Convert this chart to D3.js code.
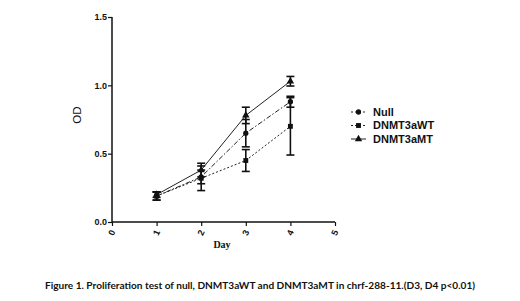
<!DOCTYPE html>
<html><head><meta charset="utf-8">
<script src="https://cdn.jsdelivr.net/npm/d3@7"></script>
<style>body{margin:0;background:#fff}svg{display:block}</style>
</head><body>
<svg id="c" width="520" height="301"></svg>
<script>
const days = [1, 2, 3, 4];
const xTicks = [0, 1, 2, 3, 4, 5];
const yTicks = [0.0, 0.5, 1.0, 1.5];
const seriesNames = ["Null", "DNMT3aWT", "DNMT3aMT"];
const nullMean = [0.19, 0.33, 0.65, 0.88];
const nullErr  = [0.03, 0.05, 0.10, 0.04];
const wtMean   = [0.19, 0.32, 0.45, 0.70];
const wtErr    = [0.03, 0.09, 0.08, 0.21];
const mtMean   = [0.20, 0.38, 0.78, 1.03];
const mtErr    = [0.02, 0.05, 0.06, 0.035];

const svg = d3.select("#c");
const x = d3.scaleLinear().domain([0,5]).range([112,335]);
const y = d3.scaleLinear().domain([0,1.5]).range([222,17]);

const series = [
  {name: seriesNames[0], mean: nullMean, err: nullErr, dash: "5,2,1.5,2", shape: d3.symbolCircle, size: 22},
  {name: seriesNames[1], mean: wtMean, err: wtErr, dash: "2,2", shape: d3.symbolSquare, size: 24},
  {name: seriesNames[2], mean: mtMean, err: mtErr, dash: null, shape: d3.symbolTriangle, size: 24}
];

// axes
const yAxis = d3.axisLeft(y).tickValues(yTicks).tickFormat(d3.format(".1f")).tickSize(4);
const gy = svg.append("g").attr("transform","translate(112,0)").call(yAxis);
gy.select(".domain").attr("stroke","#111").attr("stroke-width",1.5).attr("d","M0,17V222");
gy.selectAll(".tick line").attr("stroke","#111").attr("stroke-width",1.2);
gy.selectAll(".tick text").attr("font-family","Liberation Sans, Arial").attr("font-weight","bold").attr("font-size",9).attr("fill","#111").attr("x",-5);

const xAxis = d3.axisBottom(x).tickValues(xTicks).tickFormat(d3.format("d")).tickSize(4);
const gx = svg.append("g").attr("transform","translate(0,222)").call(xAxis);
gx.select(".domain").attr("stroke","#111").attr("stroke-width",1.5).attr("d","M112,0H335");
gx.selectAll(".tick line").attr("stroke","#111").attr("stroke-width",1.2);
gx.selectAll(".tick text").attr("font-family","Liberation Sans, Arial").attr("font-weight","bold").attr("font-size",9).attr("fill","#111")
  .attr("y",0).attr("dy",0).attr("text-anchor","middle")
  .attr("transform","translate(0,11) rotate(-65)").attr("dominant-baseline","middle");

// axis titles
svg.append("text").attr("x",222).attr("y",248).attr("text-anchor","middle")
  .attr("font-family","Liberation Serif, Times New Roman").attr("font-weight","bold").attr("font-size",10).attr("fill","#111").text("Day");
svg.append("text").attr("transform","translate(81,115) rotate(-90)").attr("text-anchor","middle")
  .attr("font-family","Liberation Sans, Arial").attr("font-size",11.5).attr("fill","#111").text("OD");

// lines, error bars, markers
const line = d3.line().x((d,i)=>x(days[i])).y(d=>y(d));
series.forEach(s=>{
  svg.append("path").attr("d", line(s.mean)).attr("fill","none").attr("stroke","#222")
    .attr("stroke-width",1).attr("stroke-dasharray", s.dash);
});
series.forEach(s=>{
  const g = svg.append("g");
  s.mean.forEach((m,i)=>{
    const cx = x(days[i]), t = y(m + s.err[i]), b = y(m - s.err[i]);
    g.append("line").attr("x1",cx).attr("x2",cx).attr("y1",t).attr("y2",b).attr("stroke","#111").attr("stroke-width",1.6);
    g.append("line").attr("x1",cx-4).attr("x2",cx+4).attr("y1",t).attr("y2",t).attr("stroke","#111").attr("stroke-width",1.6);
    g.append("line").attr("x1",cx-4).attr("x2",cx+4).attr("y1",b).attr("y2",b).attr("stroke","#111").attr("stroke-width",1.6);
    g.append("path").attr("d", d3.symbol().type(s.shape).size(s.size)()).attr("transform",`translate(${cx},${y(m)})`).attr("fill","#111");
  });
});

// legend
const leg = svg.append("g");
series.forEach((s,i)=>{
  const ly = 112 + i*13.5;
  leg.append("line").attr("x1",351).attr("x2",366).attr("y1",ly).attr("y2",ly).attr("stroke","#222").attr("stroke-width",1).attr("stroke-dasharray", s.dash ? "2,2" : null);
  leg.append("path").attr("d", d3.symbol().type(s.shape).size(s.size)()).attr("transform",`translate(358.5,${ly})`).attr("fill","#111");
  leg.append("text").attr("x",373).attr("y",ly).attr("dy","0.35em").attr("font-family","Liberation Sans, Arial").attr("font-weight","bold")
    .attr("font-size",11).attr("fill","#111").text(s.name);
});

// caption
svg.append("text").attr("x",260).attr("y",289).attr("text-anchor","middle")
  .attr("font-family","Lato, Open Sans, sans-serif").attr("font-weight","bold").attr("font-size",9.5).attr("fill","#111")
  .attr("textLength",430).attr("lengthAdjust","spacingAndGlyphs")
  .text("Figure 1. Proliferation test of null, DNMT3aWT and DNMT3aMT in chrf-288-11.(D3, D4 p<0.01)");
</script>
</body></html>
